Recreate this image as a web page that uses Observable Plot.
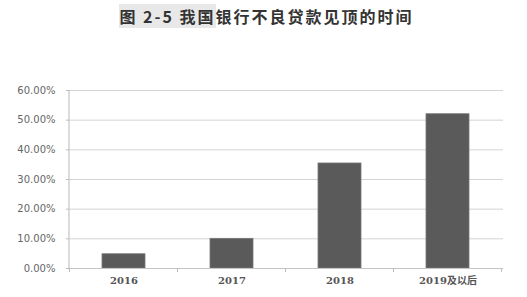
<!DOCTYPE html>
<html>
<head>
<meta charset="utf-8">
<script src="https://cdn.jsdelivr.net/npm/d3@7"></script>
<script src="https://cdn.jsdelivr.net/npm/@observablehq/plot@0.6"></script>
<style>
  html, body { margin: 0; padding: 0; background: #fff; }
  #wrap { width: 527px; height: 297px; overflow: hidden; }
  #title {
    height: 35px; line-height: 33px; text-align: center;
    font-family: "Noto Sans CJK SC", sans-serif; font-weight: bold;
    font-size: 16px; color: #333; letter-spacing: 2px;
    padding-left: 6px;
  }
  #title span { background: #e8e8e8; }
</style>
</head>
<body>
<div id="wrap">
  <div id="title"><span>图 2-5 我国</span>银行不良贷款见顶的时间</div>
  <div id="chart"></div>
</div>
<script>
// Timing of the peak in bank non-performing loans
const years = ["2016", "2017", "2018", "2019及以后"];
const shares = [0.048, 0.10, 0.354, 0.52];
const yTicks = [0, 0.1, 0.2, 0.3, 0.4, 0.5, 0.6];

const rows = years.map((year, i) => ({year, share: shares[i]}));

// Vertical axis line along the left edge of the plot area
function leftAxisLine(index, scales, values, dims) {
  const g = d3.create("svg:g");
  g.append("line")
    .attr("x1", dims.marginLeft).attr("x2", dims.marginLeft)
    .attr("y1", scales.y(yTicks[yTicks.length - 1])).attr("y2", scales.y(0))
    .attr("stroke", "#c4c4c4").attr("stroke-width", 1.2);
  return g.node();
}

// Ticks on the category axis sit between the bands
function bandBoundaries(index, scales, values, dims) {
  const x = scales.x;
  const half = (x.step() - x.bandwidth()) / 2;
  const g = d3.create("svg:g");
  const y0 = dims.height - dims.marginBottom;
  const edges = [x(years[0]) - half, ...years.map(c => x(c) + x.bandwidth() + half)];
  for (const e of edges) {
    g.append("line")
      .attr("x1", e).attr("x2", e)
      .attr("y1", y0).attr("y2", y0 + 4)
      .attr("stroke", "#bdbdbd");
  }
  return g.node();
}

const chart = Plot.plot({
  width: 527,
  height: 262,
  marginTop: 55,
  marginBottom: 29,
  marginLeft: 69,
  marginRight: 24,
  style: {fontFamily: "DejaVu Sans, sans-serif", background: "#fff"},
  x: {domain: years, paddingInner: 0.6, paddingOuter: 0.3, label: null},
  y: {domain: [0, 0.6], label: null},
  marks: [
    Plot.gridY(yTicks.slice(1), {stroke: "#d4d4d4", strokeOpacity: 1}),
    Plot.barY(rows, {x: "year", y: "share", fill: "#5a5a5a", stroke: "#777", strokeWidth: 0.8}),
    Plot.ruleY([0], {stroke: "#c4c4c4", strokeWidth: 1.2}),
    leftAxisLine,
    bandBoundaries,
    Plot.axisY(yTicks, {
      tickFormat: d3.format(".2%"), tickSize: 3, tickPadding: 11,
      stroke: "#bdbdbd", fill: "#666", fontSize: 10, label: null
    }),
    Plot.axisX(years, {
      tickSize: 0, tickPadding: 8, fill: "#555", fontSize: 10,
      fontWeight: "bold", fontFamily: "DejaVu Serif, Noto Sans CJK SC, serif", label: null
    })
  ]
});
document.getElementById("chart").appendChild(chart);
</script>
</body>
</html>
